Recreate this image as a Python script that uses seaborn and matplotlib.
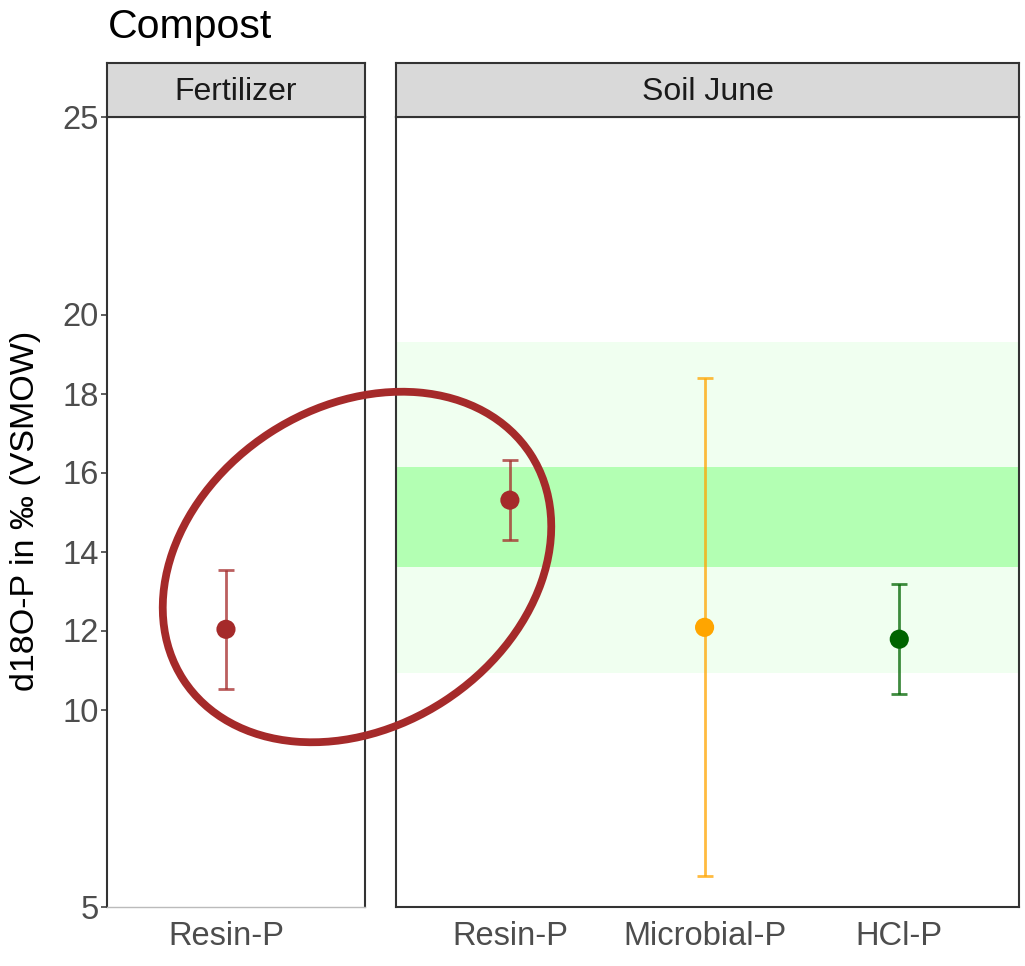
import numpy as np
import pandas as pd
import seaborn as sns
import matplotlib.pyplot as plt
from matplotlib.patches import Ellipse

sns.set_style("white")
plt.rcParams['font.family'] = ['Liberation Sans', 'DejaVu Sans']

# ---------------- data ----------------
title = "Compost"
y_label = "d18O-P in \u2030 (VSMOW)"
panels = ["Fertilizer", "Soil June"]

fert_fractions = ["Resin-P"]
fert_mean = [12.03]
fert_sd = [1.51]

soil_fractions = ["Resin-P", "Microbial-P", "HCl-P"]
soil_mean = [15.30, 12.08, 11.78]
soil_sd = [1.01, 6.30, 1.39]

fraction_colors = {"Resin-P": "#A52A2A", "Microbial-P": "#FFA500", "HCl-P": "#006400"}

band_outer = (10.92, 19.31)
band_inner = (13.60, 16.13)
y_ticks = [5, 10, 12, 14, 16, 18, 20, 25]
y_range = (5, 25)

# ---------------- layout ----------------
W, H = 1025, 966
fig = plt.figure(figsize=(W / 100, H / 100), dpi=100)


def px_axes(x0, x1, ytop, ybot):
    return fig.add_axes([x0 / W, (H - ybot) / H, (x1 - x0) / W, (ybot - ytop) / H])


ax1 = px_axes(107, 365, 117, 907)
ax2 = px_axes(396, 1019, 117, 907)
s1 = px_axes(107, 365, 63, 117)
s2 = px_axes(396, 1019, 63, 117)

border = "#333333"


def draw_panel(ax, fractions, means, sds, xlim):
    df = pd.DataFrame({"pos": np.arange(len(fractions)), "fraction": fractions,
                       "mean": means, "sd": sds})
    for _, r in df.iterrows():
        ax.errorbar(r["pos"], r["mean"], yerr=r["sd"], fmt="none",
                    ecolor=fraction_colors[r["fraction"]], alpha=0.75,
                    elinewidth=2.0, capsize=6, capthick=2.0, zorder=3)
    sns.scatterplot(data=df, x="pos", y="mean", hue="fraction",
                    palette=fraction_colors, s=190, edgecolor="none",
                    legend=False, ax=ax, zorder=4)
    ax.set_xlim(*xlim)
    ax.set_ylim(*y_range)
    ax.set_xticks(df["pos"])
    ax.set_xticklabels(fractions)
    ax.set_yticks(y_ticks)
    ax.set_xlabel("")
    ax.set_ylabel("")
    ax.tick_params(axis="x", length=0, pad=10, labelsize=23.5, labelcolor="#4D4D4D")
    for sp in ax.spines.values():
        sp.set_visible(True)
        sp.set_color(border)
        sp.set_linewidth(1.5)


# bands in Soil June panel
ax2.axhspan(*band_outer, color="#F0FFF0", lw=0, zorder=1)
ax2.axhspan(*band_inner, color="#B3FFB3", lw=0, zorder=2)

draw_panel(ax1, fert_fractions, fert_mean, fert_sd, (-0.611, 0.714))
draw_panel(ax2, soil_fractions, soil_mean, soil_sd, (-0.585, 2.615))

ax1.tick_params(axis="y", length=4, width=1.1, color=border, pad=2,
                labelsize=23.5, labelcolor="#4D4D4D", left=True)
ax1.spines["bottom"].set_color("#BBBBBB")
ax1.spines["bottom"].set_linewidth(1.0)
ax2.tick_params(axis="y", left=False, labelleft=False)

for s, name in zip([s1, s2], panels):
    s.set_facecolor("#D9D9D9")
    s.set_xticks([])
    s.set_yticks([])
    for sp in s.spines.values():
        sp.set_visible(True)
        sp.set_color(border)
        sp.set_linewidth(1.5)
    s.text(0.5, 0.46, name, ha="center", va="center", size=23, color="#1A1A1A",
           transform=s.transAxes)

fig.text(26 / W, (H - 511) / H, y_label, rotation=90, ha="center", va="center",
         size=24.5, color="black")
fig.text(108 / W, (H - 38) / H, title, ha="left", va="baseline", size=29.5,
         color="black")

# highlight ellipse annotation (figure inches)
fig.add_artist(Ellipse((3.57, 3.99), 4.14, 3.20, angle=33,
                       transform=fig.dpi_scale_trans, fill=False,
                       edgecolor="#A52A2A", linewidth=5.6, zorder=10))

fig.savefig("out.png", dpi=100)
